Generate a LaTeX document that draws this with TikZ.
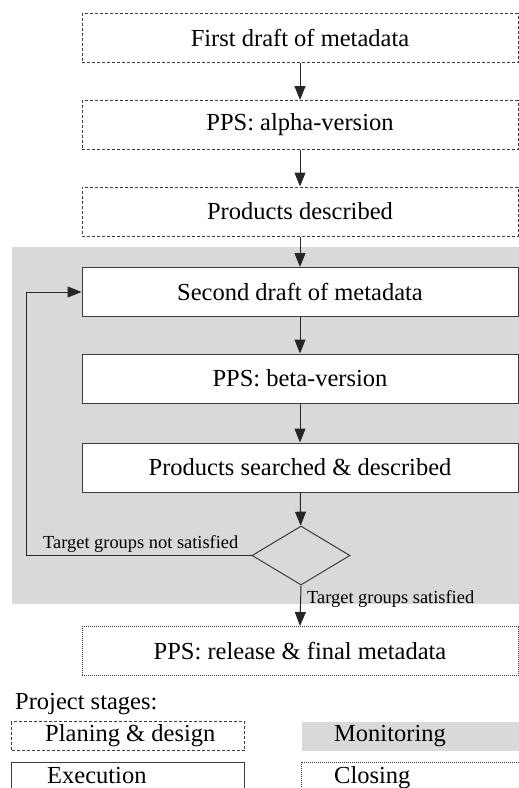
\documentclass[tikz,border=0pt]{standalone}
\usepackage{fontspec}
\setmainfont{Liberation Serif}
\usetikzlibrary{arrows.meta,shapes.geometric}
\definecolor{monigray}{RGB}{217,217,217}
\definecolor{edgecol}{RGB}{60,60,60}
\tikzset{
  bigfont/.style={font=\fontsize{24.5}{29}\selectfont},
  smallfont/.style={font=\fontsize{18.4}{22}\selectfont},
  stagebox/.style={draw=edgecol, line width=1pt, minimum width=436pt, minimum height=49pt, inner sep=0pt, bigfont},
  planbox/.style={stagebox, dash pattern=on 3pt off 2pt},
  execbox/.style={stagebox, fill=white},
  closebox/.style={stagebox, dash pattern=on 1pt off 1pt},
  arr/.style={draw=black!85, line width=1pt, -{Triangle[length=14pt,width=11pt]}},
  legbox/.style={line width=1pt, minimum height=29pt, inner sep=0pt, anchor=north west},
  legtext/.style={bigfont, anchor=base west, inner sep=0pt},
}
\begin{document}
\begin{tikzpicture}[x=1pt,y=-1pt]
\useasboundingbox (0,0) rectangle (519,788);
\clip (0,0) rectangle (519,788);
% monitoring area
\fill[monigray] (12,247) rectangle (525,604);
% stages
\node[planbox] (b1) at (300,38) {First draft of metadata};
\node[planbox] (b2) at (300,125) {PPS: alpha-version};
\node[planbox] (b3) at (300,211.5) {Products described};
\node[execbox] (b4) at (300,292) {Second draft of metadata};
\node[execbox] (b5) at (300,378.5) {PPS: beta-version};
\node[execbox] (b6) at (300,467.5) {Products searched \& described};
\node[draw=edgecol, line width=1pt, shape=diamond, aspect=1.66, minimum width=98pt, minimum height=59pt, inner sep=0pt] (dia) at (301,555.5) {};
\node[closebox] (b7) at (300,651) {PPS: release \& final metadata};
% connectors
\draw[arr] (b1) -- (b2);
\draw[arr] (b2) -- (b3);
\draw[arr] (b3) -- (b4);
\draw[arr] (b4) -- (b5);
\draw[arr] (b5) -- (b6);
\draw[arr] (b6) -- (dia);
\draw[arr] (dia.west) -- ++(-225,0) |- (b4.west);
\draw[arr] (dia.south) -- (b7.north);
% labels
\node[smallfont, anchor=base west, inner sep=0pt] (lno) at (43,548) {Target groups not satisfied};
\node[smallfont, anchor=base west, inner sep=0pt] (lyes) at (307,603) {Target groups satisfied};
% legend
\node[legtext] (ptitle) at (15,709) {Project stages:};
\node[legbox, draw=edgecol, dash pattern=on 3pt off 2pt, minimum width=233pt] (lplan) at (11,721) {};
\node[legtext] (tplan) at (45,741) {Planing \& design};
\node[legbox, fill=monigray, minimum width=230pt] (lmon) at (301,721) {};
\node[legtext] (tmon) at (334,741) {Monitoring};
\node[legbox, draw=edgecol, minimum width=233pt, minimum height=45pt] (lexec) at (11,762) {};
\node[legtext] (texec) at (47,783) {Execution};
\node[legbox, draw=edgecol, dash pattern=on 1pt off 1pt, minimum width=230pt, minimum height=45pt] (lclose) at (301,762) {};
\node[legtext] (tclose) at (334,783) {Closing};
\end{tikzpicture}
\end{document}
